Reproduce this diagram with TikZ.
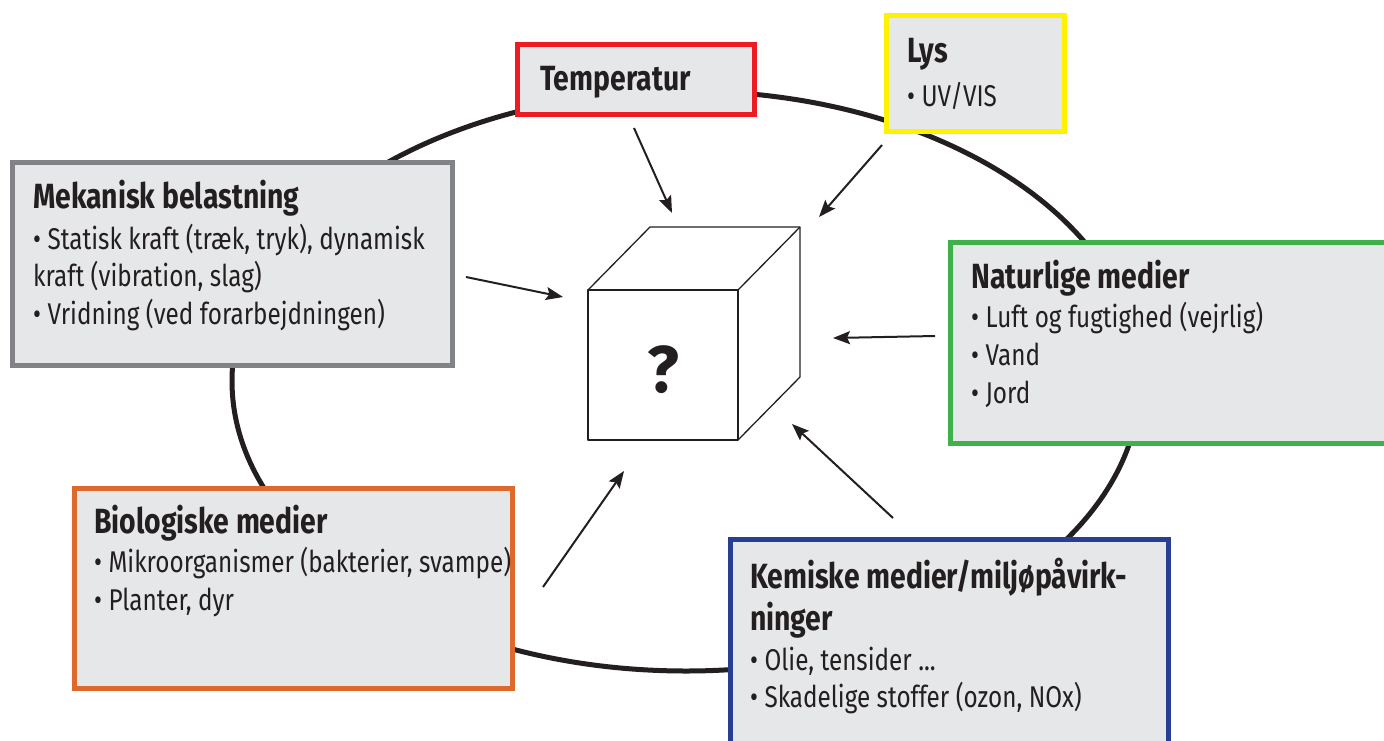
\documentclass[tikz,border=0pt]{standalone}
\usepackage{fontspec}
\setmainfont{Fira Sans}[FakeStretch=0.81]
\newfontfamily\qfont{Fira Sans}
\usetikzlibrary{arrows.meta}
\definecolor{boxfill}{HTML}{E6E7E8}
\definecolor{cgray}{HTML}{828386}
\definecolor{cred}{HTML}{ED1C24}
\definecolor{cyellow}{HTML}{FFF200}
\definecolor{cgreen}{HTML}{3FB14B}
\definecolor{corange}{HTML}{DD6A2C}
\definecolor{cblue}{HTML}{263F92}
\definecolor{ink}{HTML}{231F20}
\tikzset{
  infobox/.style={draw=#1, fill=boxfill, line width=5pt, rectangle, inner sep=0pt},
  ttl/.style={anchor=base west, inner sep=0pt, font=\fontsize{35}{42}\selectfont\bfseries, text=ink},
  itm/.style={anchor=base west, inner sep=0pt, font=\fontsize{30}{37}\selectfont, text=ink},
  cubeline/.style={draw=ink, line width=1.3pt, line join=round},
  inarrow/.style={draw=ink, line width=2pt, -{Stealth[length=17pt, width=13pt, inset=3pt]}},
  ring/.style={draw=ink, line width=5pt}
}
\begin{document}
\begin{tikzpicture}[x=1pt, y=-1pt]
\useasboundingbox (0,0) rectangle (1384,740);
% ring
\draw[ring] (686,381) ellipse [x radius=454, y radius=290];
% boxes
\node[infobox=cgray, minimum width=440pt, minimum height=203pt] (mek) at (232.5,264) {};
\node[infobox=cred, minimum width=237pt, minimum height=70pt] (temp) at (636,79.5) {};
\node[infobox=cyellow, minimum width=178pt, minimum height=116pt] (lys) at (975.5,73.5) {};
\node[infobox=cgreen, minimum width=438pt, minimum height=201pt] (nat) at (1169.5,343) {};
\node[infobox=corange, minimum width=438pt, minimum height=200pt] (bio) at (293.5,588.5) {};
\node[infobox=cblue, minimum width=438pt, minimum height=215pt] (kem) at (949.5,647) {};
% cube
\coordinate (fa) at (588,290);
\coordinate (fb) at (738,290);
\coordinate (fc) at (738,440);
\coordinate (fd) at (588,440);
\coordinate (ba) at (650,227);
\coordinate (bb) at (800,227);
\coordinate (bc) at (800,377);
\fill[white] (fa) -- (ba) -- (bb) -- (bc) -- (fc) -- (fd) -- cycle;
\draw[cubeline] (fa) rectangle (fc);
\draw[cubeline] (fa) -- (ba) -- (bb) -- (bc) -- (fc);
\draw[cubeline] (fb) -- (bb);
\node[inner sep=0pt, font=\qfont\fontsize{66}{70}\selectfont\bfseries, text=ink] (q) at (663,370) {?};
% texts
\node[ttl] (mekT) at (33,208) {Mekanisk belastning};
\node[itm] (mek1) at (33,249) {• Statisk kraft (træk, tryk), dynamisk};
\node[itm] (mek2) at (33,286) {kraft (vibration, slag)};
\node[itm] (mek3) at (33,324) {• Vridning (ved forarbejdningen)};
\node[ttl] (tempT) at (540,90) {Temperatur};
\node[ttl] (lysT) at (907,62) {Lys};
\node[itm] (lys1) at (907,106) {• UV/VIS};
\node[ttl] (natT) at (971,288) {Naturlige medier};
\node[itm] (nat1) at (971,327) {• Luft og fugtighed (vejrlig)};
\node[itm] (nat2) at (971,365) {• Vand};
\node[itm] (nat3) at (971,403) {• Jord};
\node[ttl] (bioT) at (94,533) {Biologiske medier};
\node[itm] (bio1) at (94,572) {• Mikroorganismer (bakterier, svampe)};
\node[itm] (bio2) at (94,610) {• Planter, dyr};
\node[ttl] (kemT) at (750,588) {Kemiske medier/miljøpåvirk-};
\node[ttl] (kemT2) at (750,630) {ninger};
\node[itm] (kem1) at (750,670) {• Olie, tensider ...};
\node[itm] (kem2) at (750,707) {• Skadelige stoffer (ozon, NOx)};
% arrows
\coordinate (tempS) at (634,128);  \coordinate (tempE) at (672,213);
\coordinate (lysS) at (882,145);   \coordinate (lysE) at (819,217);
\coordinate (mekS) at (466,277);   \coordinate (mekE) at (563,297);
\coordinate (natS) at (935,336);   \coordinate (natE) at (833,338);
\coordinate (bioS) at (543,587);   \coordinate (bioE) at (624,471);
\coordinate (kemS) at (893,518);   \coordinate (kemE) at (792,424);
\draw[inarrow] (tempS) -- (tempE);
\draw[inarrow] (lysS) -- (lysE);
\draw[inarrow] (mekS) -- (mekE);
\draw[inarrow] (natS) -- (natE);
\draw[inarrow] (bioS) -- (bioE);
\draw[inarrow] (kemS) -- (kemE);
\end{tikzpicture}
\end{document}
